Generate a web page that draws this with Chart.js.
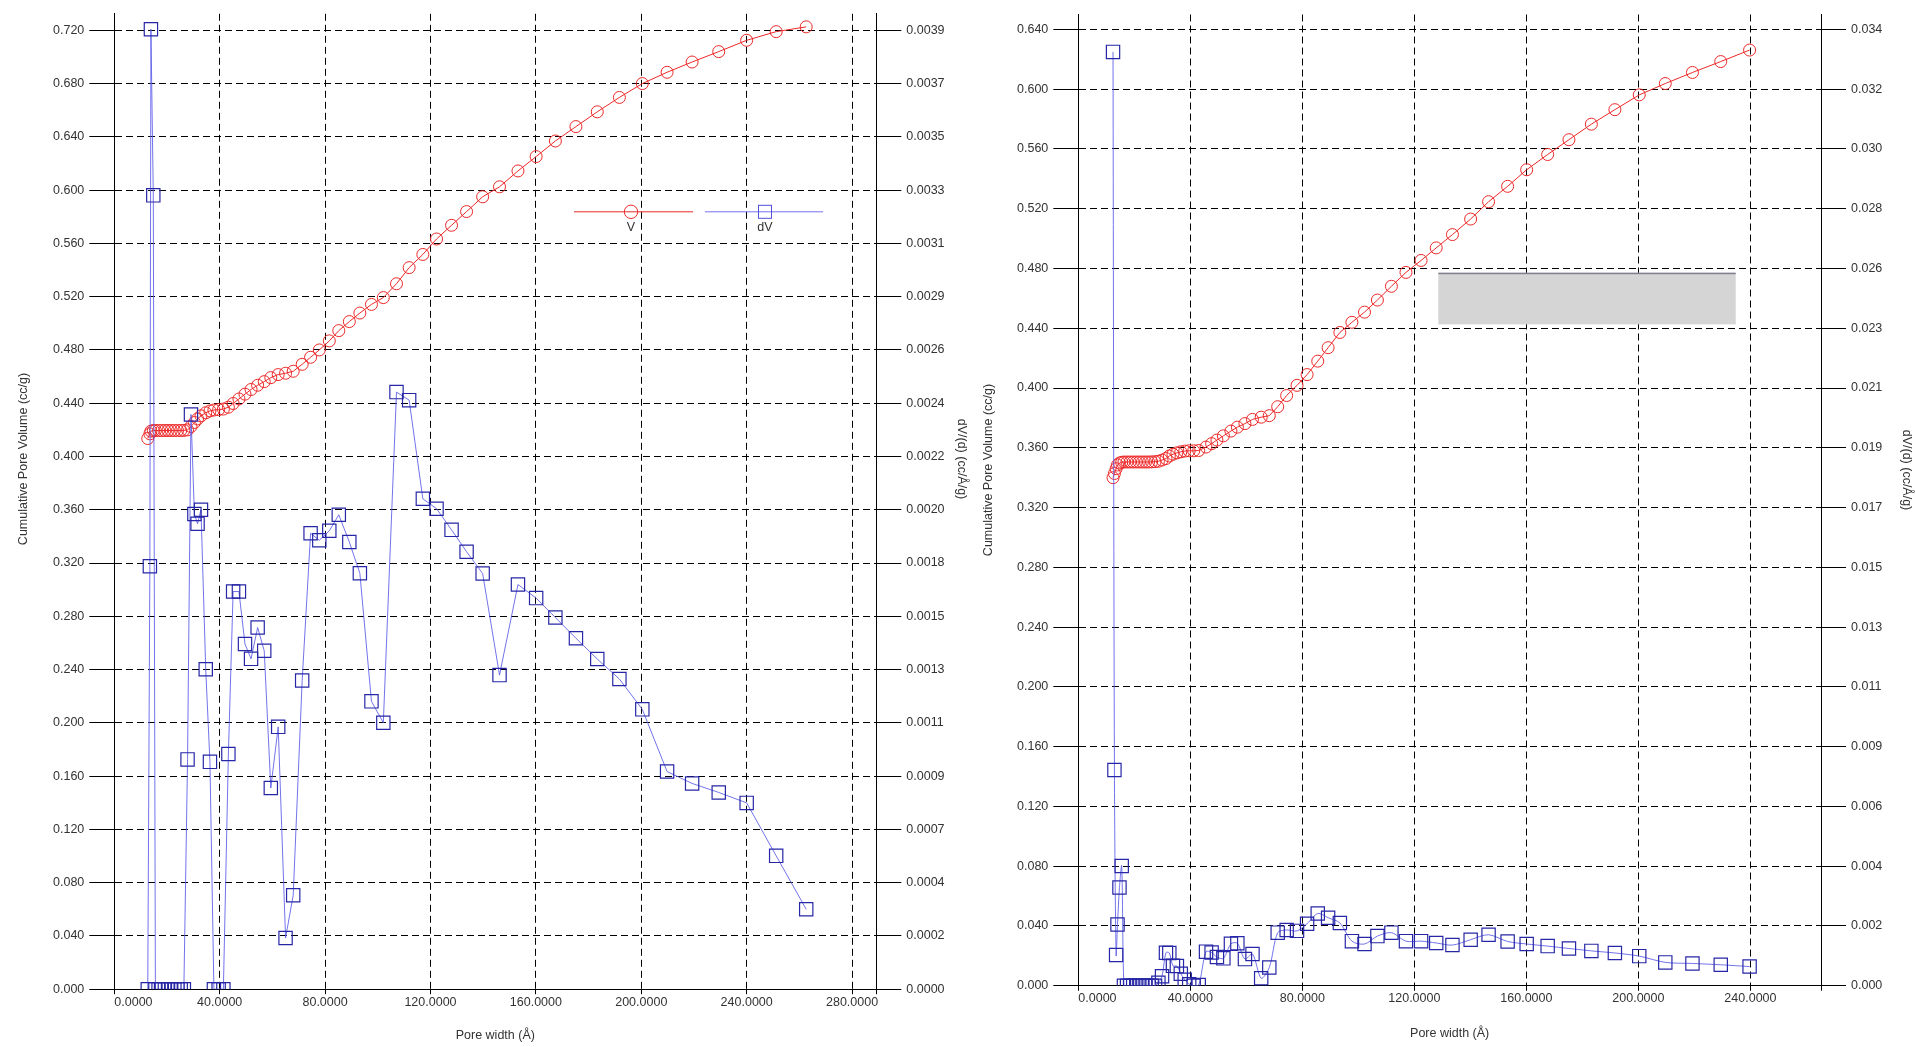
<!DOCTYPE html>
<html>
<head>
<meta charset="utf-8">
<script src="https://cdn.jsdelivr.net/npm/chart.js@4.4.1/dist/chart.umd.min.js"></script>
<style>
  html, body { margin: 0; padding: 0; background: #fff; }
  body { width: 1915px; height: 1047px; position: relative; overflow: hidden; }
  .box { position: absolute; top: 0; height: 1047px; }
  #left-box { left: 0; width: 975px; }
  #right-box { left: 957px; width: 958px; }
</style>
</head>
<body>
<div class="box" id="left-box"><canvas id="chart-left" width="975" height="1047"></canvas></div>
<div class="box" id="right-box"><canvas id="chart-right" width="958" height="1047"></canvas></div>
<script>
// ---- sample A (left plot) ----
const widthA = [12.7, 13.5, 13.9, 14.8, 15.6, 16.8, 18.0, 19.2, 20.4, 21.6, 22.8, 24.0, 25.2, 26.4,
  27.8, 29.1, 30.4, 31.6, 32.9, 34.7, 36.3, 37.8, 39.6, 41.4, 43.3, 45.1, 47.3, 49.6, 51.9, 54.4,
  56.9, 59.4, 62.2, 65.0, 67.9, 71.3, 74.5, 77.8, 81.6, 85.2, 89.2, 93.2, 97.6, 102.1, 107.1, 111.9,
  117.1, 122.3, 128.0, 133.7, 139.8, 146.2, 153.2, 160.1, 167.4, 175.2, 183.3, 191.7, 200.4, 209.8,
  219.3, 229.4, 240.0, 251.2, 262.6];
const volA = [0.4135, 0.4170, 0.4190, 0.4195, 0.4195, 0.4195, 0.4195, 0.4195, 0.4195, 0.4195, 0.4195,
  0.4195, 0.4195, 0.4196, 0.4200, 0.4225, 0.4255, 0.4282, 0.4305, 0.4328, 0.4342, 0.4349, 0.4352,
  0.4356, 0.4370, 0.4398, 0.4432, 0.4468, 0.4503, 0.4535, 0.4562, 0.4592, 0.4615, 0.4625, 0.4640,
  0.4692, 0.4745, 0.4800, 0.4868, 0.4945, 0.5013, 0.5077, 0.5142, 0.5193, 0.5297, 0.5418, 0.5517,
  0.5633, 0.5736, 0.5839, 0.5950, 0.6025, 0.6144, 0.6252, 0.6369, 0.6477, 0.6588, 0.6696, 0.6800,
  0.6885, 0.6962, 0.7040, 0.7125, 0.7190, 0.7226];
const dvA = [0, 0.001741, 0.003952, 0.003268, 0, 0, 0, 0, 0, 0, 0, 0, 0, 0,
  0.000946, 0.002366, 0.001956, 0.001916, 0.001974, 0.001317, 0.000936, 0, 0, 0, 0.000968, 0.001637,
  0.001637, 0.001421, 0.00136, 0.001489, 0.001393, 0.000828, 0.00108, 0.000211, 0.000387, 0.001271,
  0.001877, 0.001848, 0.001887, 0.001953, 0.001841, 0.001712, 0.001185, 0.001097, 0.002458, 0.002425,
  0.002019, 0.001978, 0.001891, 0.001801, 0.001711, 0.001293, 0.001666, 0.00161, 0.00153, 0.001445,
  0.001359, 0.001277, 0.001152, 0.000896, 0.000847, 0.00081, 0.000767, 0.000549, 0.000329];

// ---- sample B (right plot) ----
const widthB = [12.4, 12.9, 13.5, 14.0, 14.7, 15.5, 16.3, 17.4, 18.5, 19.6, 20.7, 21.8, 22.9, 24.0,
  25.1, 26.2, 27.4, 28.6, 29.9, 31.3, 32.5, 33.8, 35.2, 36.6, 38.0, 39.6, 41.2, 43.0, 45.6, 47.6,
  49.5, 51.8, 54.5, 56.8, 59.5, 62.2, 65.3, 68.2, 71.2, 74.4, 78.1, 81.7, 85.5, 89.2, 93.4, 97.7,
  102.2, 106.8, 111.8, 117.0, 122.4, 127.8, 133.6, 140.1, 146.5, 153.3, 160.1, 167.6, 175.2, 183.2,
  191.6, 200.3, 209.6, 219.3, 229.4, 239.7];
const volB = [0.3400, 0.3428, 0.3460, 0.3485, 0.3498, 0.3503, 0.3505, 0.3505, 0.3505, 0.3505, 0.3505,
  0.3505, 0.3505, 0.3505, 0.3505, 0.3506, 0.3507, 0.3510, 0.3518, 0.3528, 0.3545, 0.3557, 0.3566,
  0.3573, 0.3578, 0.3580, 0.3580, 0.3582, 0.3605, 0.3628, 0.3652, 0.3680, 0.3712, 0.3738, 0.3762,
  0.3790, 0.3805, 0.3815, 0.3875, 0.3950, 0.4018, 0.4090, 0.4180, 0.4270, 0.4372, 0.4440, 0.4508,
  0.4589, 0.4681, 0.4774, 0.4854, 0.4938, 0.5027, 0.5131, 0.5247, 0.5350, 0.5461, 0.5563, 0.5662,
  0.5766, 0.5863, 0.5962, 0.6038, 0.6112, 0.6185, 0.6262];
const dvB = [0.03328, 0.007689, 0.001092, 0.002183, 0.003499, 0.004265, 0, 0, 0, 0, 0, 0, 0, 0, 0, 0, 0,
  0.000107, 0.000335, 0.001177, 0.001166, 0.000708, 0.000698, 0.000426, 0.000213, 0.000053, 0, 0.000027,
  0.001214, 0.001182, 0.001022, 0.000974, 0.001491, 0.001512, 0.000948, 0.001129, 0.000266, 0.00065,
  0.00189, 0.001986, 0.001954, 0.00221, 0.002572, 0.002423, 0.002237, 0.001587, 0.001486, 0.001768,
  0.00189, 0.001587, 0.001587, 0.001523, 0.001448, 0.00164, 0.001816, 0.001576, 0.001486, 0.001411,
  0.001326, 0.001241, 0.001166, 0.001054, 0.000831, 0.000793, 0.000746, 0.000682];

// ---- axes ----
const volTicksA = [0, 0.04, 0.08, 0.12, 0.16, 0.20, 0.24, 0.28, 0.32, 0.36, 0.40, 0.44, 0.48, 0.52,
  0.56, 0.60, 0.64, 0.68, 0.72];
const dvLabelsA = ['0.0000', '0.0002', '0.0004', '0.0007', '0.0009', '0.0011', '0.0013', '0.0015',
  '0.0018', '0.0020', '0.0022', '0.0024', '0.0026', '0.0029', '0.0031', '0.0033', '0.0035', '0.0037', '0.0039'];
const xTicksA = [0, 40, 80, 120, 160, 200, 240, 280];
const volMaxA = 0.7324, xMaxA = 289.2, dvPerVolA = 0.0054825;

const volTicksB = [0, 0.04, 0.08, 0.12, 0.16, 0.20, 0.24, 0.28, 0.32, 0.36, 0.40, 0.44, 0.48, 0.52,
  0.56, 0.60, 0.64];
const dvLabelsB = ['0.000', '0.002', '0.004', '0.006', '0.009', '0.011', '0.013', '0.015', '0.017',
  '0.019', '0.021', '0.023', '0.026', '0.028', '0.030', '0.032', '0.034'];
const xTicksB = [0, 40, 80, 120, 160, 200, 240];
const volMaxB = 0.65, xMaxB = 265.2, dvPerVolB = 0.05325;

const Y_TITLE = 'Cumulative Pore Volume (cc/g)';
const Y1_TITLE = 'dV/(d) (cc/Å/g)';

const FAMILY = "'Liberation Sans', Arial, sans-serif";
const FONT = { family: FAMILY, size: 12.5 };
const INK = '#333';
const RED = 'rgb(236,40,40)';
const BLUE_LINE = 'rgba(90,90,232,0.85)';
const BLUE_MARK = '#2626a6';
const DASH = [7, 4];

function points(xs, ys) {
  return xs.map((x, i) => ({ x: x, y: ys[i] }));
}

function buildOptions(cfg) {
  return {
    responsive: false,
    animation: false,
    layout: { padding: { top: cfg.top, left: 0, right: 0, bottom: 0 } },
    plugins: { legend: { display: false }, tooltip: { enabled: false } },
    scales: {
      x: {
        type: 'linear', min: 0, max: cfg.xMax,
        afterBuildTicks: s => { s.ticks = cfg.xTicks.concat([cfg.xMax]).map(v => ({ value: v })); },
        afterFit: s => { s.height = cfg.xHeight; },
        grid: { color: '#000', lineWidth: 1, tickLength: 5, tickColor: '#000', tickBorderDash: [] },
        border: { color: '#000', width: 1, dash: DASH },
        ticks: {
          align: 'inner', padding: cfg.xPad, font: FONT, color: INK, maxRotation: 0, autoSkip: false,
          callback: (v, i) => i < cfg.xTicks.length ? cfg.xTicks[i].toFixed(4) : ''
        },
        title: { display: true, text: 'Pore width (Å)', font: FONT, color: INK, padding: { top: 0, bottom: cfg.xTitlePad } }
      },
      y: {
        position: 'left', min: 0, max: cfg.volMax,
        afterBuildTicks: s => { s.ticks = cfg.volTicks.map(v => ({ value: v })); },
        afterFit: s => { s.width = cfg.leftWidth; },
        grid: { color: '#000', lineWidth: 1, tickLength: 25, tickColor: '#000', tickBorderDash: [] },
        border: { color: '#000', width: 1, dash: DASH },
        ticks: { padding: 5, font: FONT, color: INK, callback: v => v.toFixed(3) }
      },
      y1: {
        position: 'right', min: 0, max: cfg.volMax * cfg.dvPerVol,
        afterBuildTicks: s => { s.ticks = cfg.volTicks.map(v => ({ value: v * cfg.dvPerVol })); },
        afterFit: s => { s.width = cfg.rightWidth; },
        grid: { drawOnChartArea: false, color: '#000', lineWidth: 1, tickLength: 25, tickColor: '#000', tickBorderDash: [] },
        border: { color: '#000', width: 1 },
        ticks: { padding: 5, font: FONT, color: INK, callback: (v, i) => cfg.dvLabels[i] }
      }
    }
  };
}

function datasets(xs, vol, dv, dvTension) {
  return [
    {
      label: 'V', data: points(xs, vol), yAxisID: 'y', order: 1,
      borderColor: RED, borderWidth: 1, tension: 0, fill: false,
      pointStyle: 'circle', pointRadius: 6, pointBorderColor: RED, pointBorderWidth: 1,
      pointBackgroundColor: 'rgba(0,0,0,0)'
    },
    {
      label: 'dV', data: points(xs, dv), yAxisID: 'y1', order: 0,
      borderColor: BLUE_LINE, borderWidth: 1, tension: dvTension, fill: false,
      pointStyle: 'rect', pointRadius: 9.4, pointBorderColor: BLUE_MARK, pointBorderWidth: 1.2,
      pointBackgroundColor: 'rgba(0,0,0,0)'
    }
  ];
}

// the program puts its vertical axis titles a bit above the middle of the axis
function sideTitles(leftX, rightX, midY) {
  return {
    id: 'sideTitles',
    afterDraw(chart) {
      const ctx = chart.ctx;
      ctx.save();
      ctx.font = FONT.size + 'px ' + FAMILY;
      ctx.fillStyle = INK;
      ctx.textAlign = 'center';
      ctx.textBaseline = 'middle';
      ctx.translate(leftX, midY);
      ctx.rotate(-Math.PI / 2);
      ctx.fillText(Y_TITLE, 0, 0);
      ctx.restore();
      ctx.save();
      ctx.font = FONT.size + 'px ' + FAMILY;
      ctx.fillStyle = INK;
      ctx.textAlign = 'center';
      ctx.textBaseline = 'middle';
      ctx.translate(rightX, midY);
      ctx.rotate(Math.PI / 2);
      ctx.fillText(Y1_TITLE, 0, 0);
      ctx.restore();
    }
  };
}

// legend of the left plot: line with the marker in its middle, name underneath
const legendA = {
  id: 'legendA',
  afterDraw(chart) {
    const ctx = chart.ctx;
    const y = 211.8;
    ctx.save();
    ctx.lineWidth = 1;
    ctx.strokeStyle = RED;
    ctx.beginPath(); ctx.moveTo(574, y); ctx.lineTo(693, y); ctx.stroke();
    ctx.beginPath(); ctx.arc(631, y, 6.7, 0, Math.PI * 2); ctx.stroke();
    ctx.strokeStyle = BLUE_LINE;
    ctx.beginPath(); ctx.moveTo(705, y); ctx.lineTo(823, y); ctx.stroke();
    ctx.strokeStyle = '#5050d8';
    ctx.strokeRect(758.5, y - 6.5, 13, 13);
    ctx.fillStyle = INK;
    ctx.font = FONT.size + 'px ' + FAMILY;
    ctx.textAlign = 'center';
    ctx.textBaseline = 'middle';
    ctx.fillText('V', 631, 227.3);
    ctx.fillText('dV', 765, 227.3);
    ctx.restore();
  }
};

// the right plot shows a grey, broken legend box instead
const legendB = {
  id: 'legendB',
  afterDraw(chart) {
    const ctx = chart.ctx;
    ctx.save();
    ctx.fillStyle = '#d5d5d5';
    ctx.fillRect(481.3, 272.7, 297.4, 51.7);
    ctx.fillStyle = 'rgba(90,90,110,0.7)';
    ctx.fillRect(481.3, 272.7, 297.4, 1.5);
    ctx.restore();
  }
};

new Chart(document.getElementById('chart-left'), {
  type: 'line',
  data: { datasets: datasets(widthA, volA, dvA, 0) },
  options: buildOptions({
    top: 13.8, xMax: xMaxA, xTicks: xTicksA, xHeight: 57.8, xPad: 1, xTitlePad: 3.5,
    volMax: volMaxA, volTicks: volTicksA, leftWidth: 114.3,
    dvPerVol: dvPerVolA, dvLabels: dvLabelsA, rightWidth: 98.7
  }),
  plugins: [legendA, sideTitles(23.3, 961.5, 459)]
});

new Chart(document.getElementById('chart-right'), {
  type: 'line',
  data: { datasets: datasets(widthB, volB, dvB, 0.3) },
  options: buildOptions({
    top: 14.5, xMax: xMaxB, xTicks: xTicksB, xHeight: 61.3, xPad: 0, xTitlePad: 6,
    volMax: volMaxB, volTicks: volTicksB, leftWidth: 121.3,
    dvPerVol: dvPerVolB, dvLabels: dvLabelsB, rightWidth: 94
  }),
  plugins: [legendB, sideTitles(31.3, 949, 470)]
});
</script>
</body>
</html>
